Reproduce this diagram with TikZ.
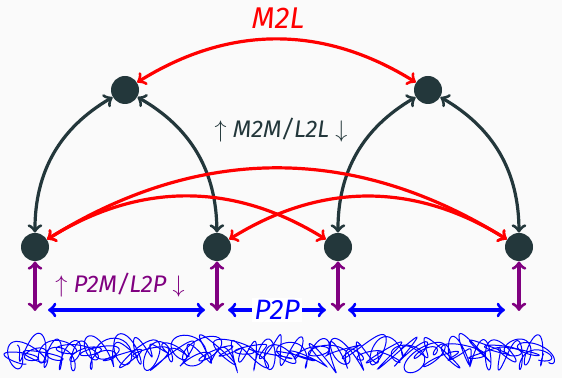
\documentclass[tikz,border=0pt]{standalone}
\usepackage{fontspec}
\setmainfont{Fira Sans}
\definecolor{darkteal}{HTML}{23373B}
\definecolor{plum}{HTML}{800080}
\definecolor{bgcol}{HTML}{FAFAFA}
\begin{document}
\begin{tikzpicture}[x=0.5pt,y=-0.5pt,>=to,
    cell/.style={circle,fill=darkteal,minimum size=14pt,inner sep=0pt},
    link/.style={<->,line width=1.6pt},
    lab/.style={inner sep=1pt,font=\fontsize{12}{14}\selectfont\itshape}]
  \fill[bgcol] (0,0) rectangle (562,378);
  \useasboundingbox (0,0) rectangle (562,378);
  % tree cells
  \node[cell] (m1) at (125,90) {};
  \node[cell] (m2) at (428,90) {};
  \node[cell] (p1) at (35,247) {};
  \node[cell] (p2) at (217,247) {};
  \node[cell] (p3) at (338,247) {};
  \node[cell] (p4) at (519,247) {};
  % M2M / L2L
  \draw[link,darkteal] (m1) to[bend right=30] (p1);
  \draw[link,darkteal] (m1) to[bend left=30] (p2);
  \draw[link,darkteal] (m2) to[bend right=30] (p3);
  \draw[link,darkteal] (m2) to[bend left=30] (p4);
  \node[lab,text=darkteal] (mm) at (281,130) {$\uparrow$ M2M/L2L $\downarrow$};
  % M2L
  \draw[link,red] (m1) to[bend left=32] (m2);
  \draw[link,red] (p1) to[bend left=32] (p4);
  \draw[link,red] (p1) to[bend left=32] (p3);
  \draw[link,red] (p2) to[bend left=32] (p4);
  \node[lab,text=red,font=\fontsize{15}{18}\selectfont\itshape] (ml) at (278,18) {M2L};
  % P2M / L2P
  \foreach \i in {1,...,4}
    \coordinate (q\i) at ([yshift=-32pt]p\i);
  \foreach \i in {1,...,4}
    \draw[link,plum] (p\i) -- (q\i);
  \node[lab,text=plum] (pm) at (120,285) {$\uparrow$ P2M/L2P $\downarrow$};
  % P2P
  \coordinate (b1) at (48,310);
  \coordinate (b2) at (205,310);
  \coordinate (b3) at (228,310);
  \coordinate (b4) at (326,310);
  \coordinate (b5) at (348,310);
  \coordinate (b6) at (505,310);
  \draw[link,blue] (b1) -- (b2);
  \draw[link,blue] (b3) -- node[lab,fill=white,text=blue,font=\fontsize{14}{16}\selectfont\itshape] (pp) {P2P} (b4);
  \draw[link,blue] (b5) -- (b6);
  % particles
  \foreach \w/\f in {19/0,24/110,15/230}
    \draw[blue,line width=0.5pt] plot[smooth,domain=0:535,samples=900,variable=\t]
      ({12+\t+(10+6*sin(\t*3.7+\f))*cos(\t*\w+25*sin(\t*1.7+\f))},
       {353+(10+6*cos(\t*5.3+\f))*sin(\t*\w+70*sin(\t*2.3+\f))+4*sin(\t*1.1+\f)});
\end{tikzpicture}
\end{document}
